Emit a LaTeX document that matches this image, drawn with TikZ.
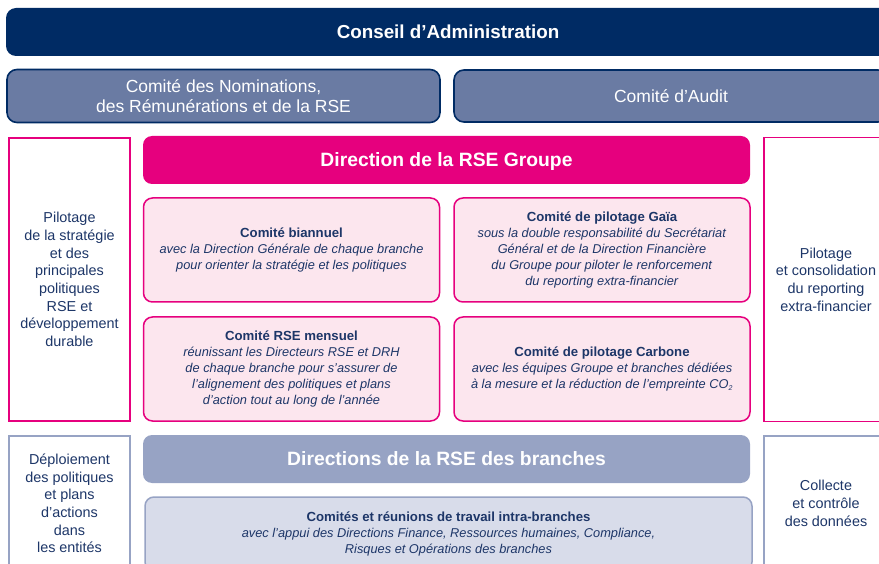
\documentclass[tikz,border=0pt]{standalone}
\usepackage{fontspec}
\setmainfont{Liberation Sans}
\definecolor{navy}{HTML}{002B64}
\definecolor{midblue}{HTML}{6A7BA3}
\definecolor{magenta}{HTML}{E6007E}
\definecolor{pinklight}{HTML}{FCE6EE}
\definecolor{grayblue}{HTML}{97A3C4}
\definecolor{grayback}{HTML}{D8DCEA}
\definecolor{txt}{HTML}{1D3668}
\newcommand{\boxtitle}[1]{{\bfseries\fontsize{13.2}{16}\selectfont #1}}
\tikzset{
  navybar/.style={fill=navy, text=white, rounded corners=10pt, inner sep=0pt, text depth=0pt,
    font=\bfseries\fontsize{18.8}{22}\selectfont},
  midbox/.style={fill=midblue, draw=navy, line width=1.6pt, rounded corners=10pt, text=white,
    inner sep=0pt, align=center, font=\fontsize{17.5}{19.5}\selectfont},
  pinkside/.style={draw=magenta, line width=1.5pt, fill=white, inner sep=0pt},
  grayside/.style={draw=grayblue, line width=1.3pt, fill=white, inner sep=0pt},
  sidetext/.style={text=txt, align=center, font=\fontsize{14.4}{17.7}\selectfont, inner sep=0pt},
  pinkhead/.style={fill=magenta, text=white, rounded corners=9pt, inner sep=0pt, text depth=0pt,
    font=\bfseries\fontsize{19.3}{22}\selectfont},
  grayhead/.style={fill=grayblue, text=white, rounded corners=9pt, inner sep=0pt, text depth=0pt,
    font=\bfseries\fontsize{19.3}{22}\selectfont},
  pinkbox/.style={fill=pinklight, draw=magenta, line width=1.5pt, rounded corners=9pt,
    text=txt, inner sep=0pt, align=center, font=\fontsize{12.8}{16}\selectfont},
  graybox/.style={fill=grayback, draw=grayblue, line width=1.5pt, rounded corners=9pt,
    text=txt, inner sep=0pt, align=center, font=\fontsize{12.8}{16}\selectfont},
}
\begin{document}
\begin{tikzpicture}[x=1pt,y=-1pt]
\useasboundingbox (0,0) rectangle (879,564);
\clip (0,0) rectangle (879,564);
% top
\node[navybar, minimum width=884pt, minimum height=48pt] (ca) at (448,32) {Conseil d’Administration};
\node[midbox, minimum width=433pt, minimum height=53pt] (nom) at (223.5,96) {Comité des Nominations,\\des Rémunérations et de la RSE};
\node[midbox, minimum width=434pt, minimum height=52pt] (aud) at (671,96) {Comité d’Audit};
% pink section
\node[pinkside, minimum width=121pt, minimum height=283pt] (lp) at (69.5,279.5) {};
\node[sidetext] (lpt) at (lp.center) {Pilotage\\de la stratégie\\et des\\principales\\politiques\\RSE et\\développement\\durable};
\node[pinkside, minimum width=124pt, minimum height=284pt] (rp) at (826,279.5) {};
\node[sidetext] (rpt) at (rp.center) {Pilotage\\et consolidation\\du reporting\\extra-financier};
\node[pinkhead, minimum width=607pt, minimum height=48pt] (dir) at (446.5,160) {Direction de la RSE Groupe};
\node[pinkbox, minimum width=296pt, minimum height=104pt] (bi) at (291.5,250)
  {\boxtitle{Comité biannuel}\\\textit{avec la Direction Générale de chaque branche}\\\textit{pour orienter la stratégie et les politiques}};
\node[pinkbox, minimum width=296pt, minimum height=104pt] (ga) at (602,250)
  {\boxtitle{Comité de pilotage Gaïa}\\\textit{sous la double responsabilité du Secrétariat}\\\textit{Général et de la Direction Financière}\\\textit{du Groupe pour piloter le renforcement}\\\textit{du reporting extra-financier}};
\node[pinkbox, minimum width=296pt, minimum height=104pt] (me) at (291.5,369)
  {\boxtitle{Comité RSE mensuel}\\\textit{réunissant les Directeurs RSE et DRH}\\\textit{de chaque branche pour s’assurer de}\\\textit{l’alignement des politiques et plans}\\\textit{d’action tout au long de l’année}};
\node[pinkbox, minimum width=296pt, minimum height=104pt] (ca2) at (602,369)
  {\boxtitle{Comité de pilotage Carbone}\\\textit{avec les équipes Groupe et branches dédiées}\\\textit{à la mesure et la réduction de l’empreinte CO$_{\textit{\scriptsize 2}}$}};
% gray section
\node[grayside, minimum width=121pt, minimum height=135pt] (lg) at (69.5,503.5) {};
\node[sidetext] (lgt) at (lg.center) {Déploiement\\des politiques\\et plans\\d’actions\\dans\\les entités};
\node[grayside, minimum width=124pt, minimum height=135pt] (rg) at (826,503.5) {};
\node[sidetext] (rgt) at (rg.center) {Collecte\\et contrôle\\des données};
\node[grayhead, minimum width=607pt, minimum height=48pt] (dbr) at (446.5,459) {Directions de la RSE des branches};
\node[graybox, minimum width=607pt, minimum height=74pt] (cbr) at (448.5,534)
  {\boxtitle{Comités et réunions de travail intra-branches}\\\textit{avec l’appui des Directions Finance, Ressources humaines, Compliance,}\\\textit{Risques et Opérations des branches}};
\end{tikzpicture}
\end{document}
